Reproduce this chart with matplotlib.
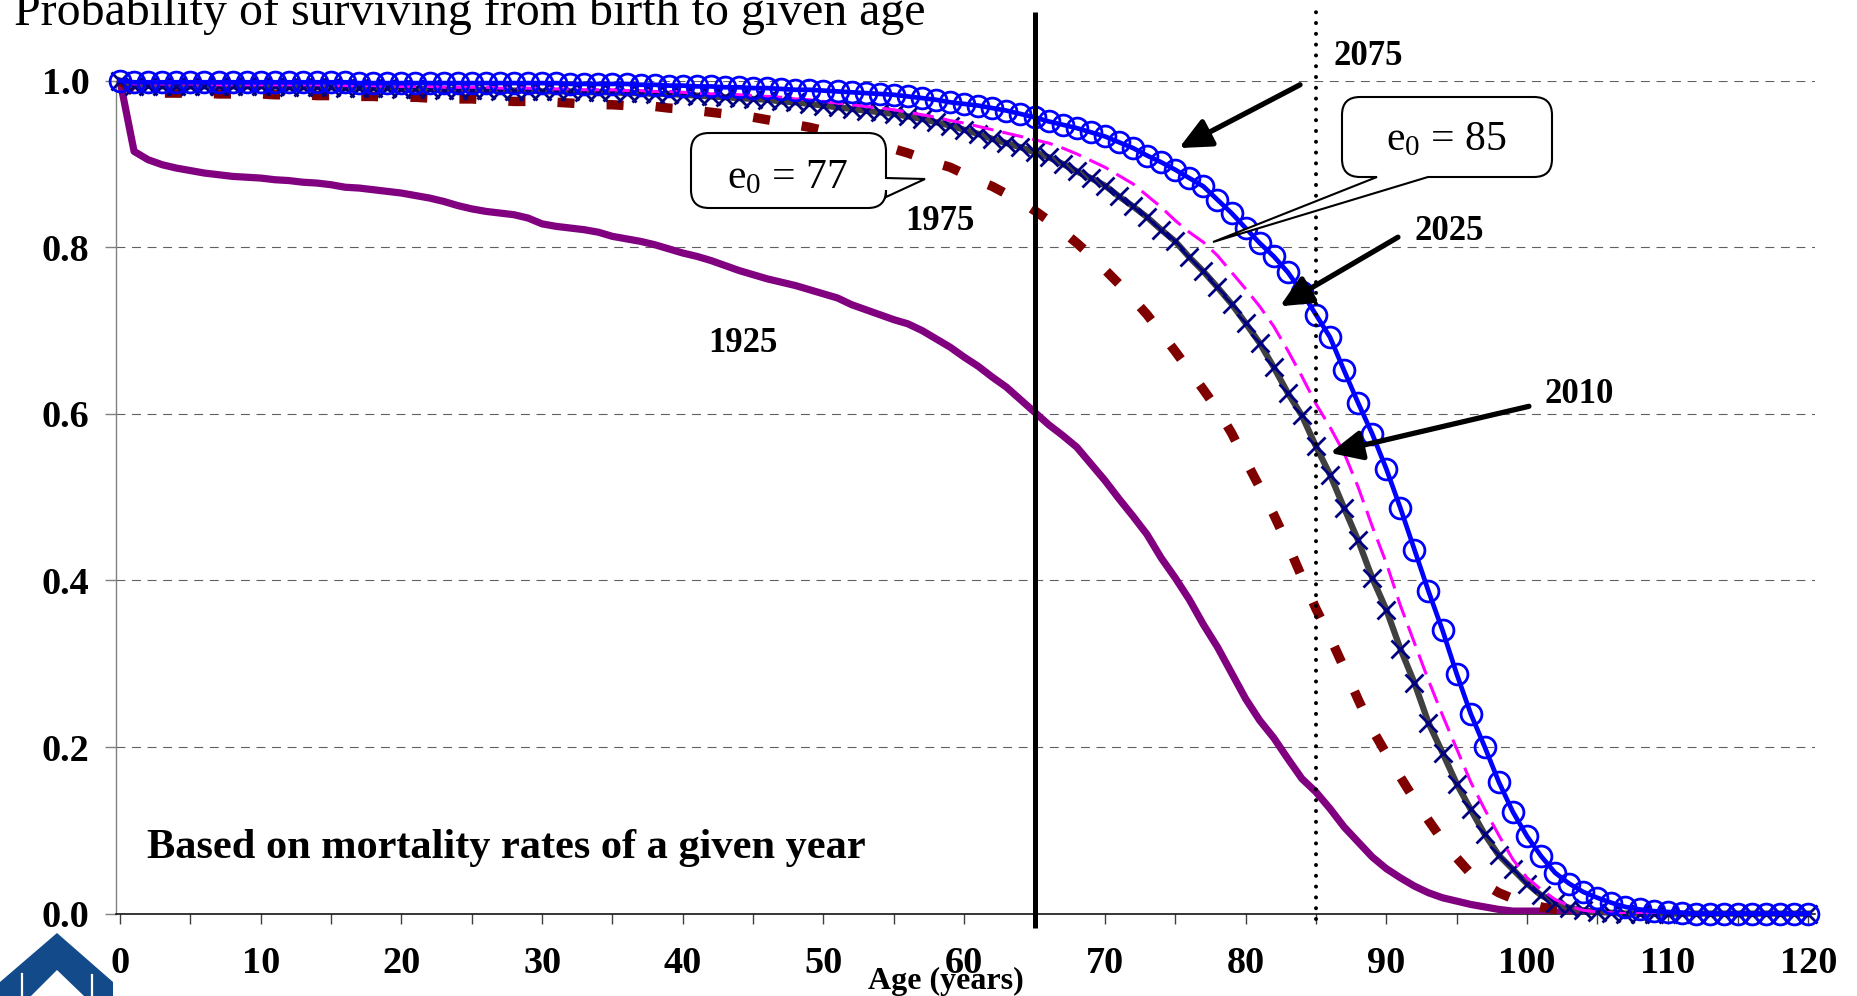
import matplotlib
matplotlib.use('Agg')
import matplotlib.pyplot as plt
from matplotlib.path import Path
from matplotlib.patches import PathPatch, Polygon

plt.rcParams['font.family'] = ['Liberation Serif', 'DejaVu Serif']
plt.rcParams['mathtext.fontset'] = 'custom'
plt.rcParams['mathtext.rm'] = 'Liberation Serif'
plt.rcParams['mathtext.it'] = 'Liberation Serif:italic'
plt.rcParams['mathtext.bf'] = 'Liberation Serif:bold'

# ---------------- data ----------------
ages = list(range(0, 121))
ages_early = list(range(0, 106))

surv_1925 = [1.000, 0.915, 0.905, 0.899, 0.895, 0.892, 0.889, 0.887, 0.885, 0.884,
             0.883, 0.881, 0.880, 0.878, 0.877, 0.875, 0.872, 0.871, 0.869, 0.867,
             0.865, 0.862, 0.859, 0.855, 0.850, 0.846, 0.843, 0.841, 0.839, 0.835,
             0.828, 0.825, 0.823, 0.821, 0.818, 0.813, 0.810, 0.807, 0.803, 0.798,
             0.793, 0.789, 0.784, 0.778, 0.772, 0.767, 0.762, 0.758, 0.754, 0.749,
             0.744, 0.739, 0.731, 0.725, 0.719, 0.713, 0.708, 0.700, 0.690, 0.680,
             0.668, 0.657, 0.644, 0.632, 0.617, 0.602, 0.587, 0.574, 0.560, 0.540,
             0.520, 0.498, 0.477, 0.455, 0.427, 0.403, 0.377, 0.347, 0.320, 0.289,
             0.258, 0.232, 0.211, 0.186, 0.162, 0.146, 0.126, 0.104, 0.086, 0.068,
             0.054, 0.043, 0.033, 0.025, 0.019, 0.015, 0.011, 0.008, 0.005, 0.003,
             0.003, 0.003, 0.002, 0.001, 0.000, 0.000]

surv_1975 = [1.000, 0.986, 0.986, 0.985, 0.985, 0.985, 0.985, 0.984, 0.984, 0.984,
             0.984, 0.983, 0.983, 0.983, 0.982, 0.982, 0.982, 0.981, 0.981, 0.980,
             0.980, 0.980, 0.979, 0.979, 0.978, 0.978, 0.977, 0.976, 0.975, 0.975,
             0.974, 0.974, 0.973, 0.972, 0.971, 0.971, 0.970, 0.969, 0.969, 0.967,
             0.966, 0.964, 0.962, 0.960, 0.958, 0.956, 0.953, 0.950, 0.947, 0.944,
             0.940, 0.936, 0.932, 0.927, 0.922, 0.918, 0.913, 0.907, 0.901, 0.896,
             0.888, 0.880, 0.873, 0.864, 0.855, 0.844, 0.832, 0.819, 0.805, 0.790,
             0.773, 0.756, 0.738, 0.719, 0.697, 0.675, 0.652, 0.629, 0.605, 0.577,
             0.544, 0.512, 0.479, 0.443, 0.404, 0.366, 0.332, 0.295, 0.257, 0.221,
             0.192, 0.164, 0.137, 0.112, 0.088, 0.067, 0.048, 0.035, 0.025, 0.018,
             0.012, 0.008, 0.005, 0.003, 0.001, 0.000]

surv_2010 = [1.000, 0.994, 0.994, 0.993, 0.993, 0.993, 0.993, 0.993, 0.993, 0.993,
             0.993, 0.993, 0.992, 0.992, 0.992, 0.992, 0.991, 0.991, 0.991, 0.991,
             0.990, 0.990, 0.990, 0.989, 0.989, 0.989, 0.989, 0.988, 0.988, 0.988,
             0.987, 0.987, 0.987, 0.986, 0.986, 0.986, 0.985, 0.985, 0.984, 0.984,
             0.983, 0.982, 0.981, 0.980, 0.979, 0.978, 0.977, 0.975, 0.974, 0.972,
             0.970, 0.968, 0.966, 0.964, 0.962, 0.960, 0.957, 0.954, 0.950, 0.946,
             0.941, 0.936, 0.930, 0.925, 0.920, 0.914, 0.908, 0.900, 0.891, 0.883,
             0.874, 0.861, 0.849, 0.836, 0.821, 0.807, 0.788, 0.771, 0.752, 0.732,
             0.709, 0.685, 0.656, 0.625, 0.598, 0.561, 0.527, 0.487, 0.448, 0.403,
             0.365, 0.318, 0.277, 0.229, 0.193, 0.156, 0.125, 0.095, 0.070, 0.053,
             0.036, 0.022, 0.013, 0.007, 0.004, 0.002, 0.001, 0.000, 0.000, 0.000,
             0.000, 0.000, 0.000, 0.000, 0.000, 0.000, 0.000, 0.000, 0.000, 0.000,
             0.000]

surv_2025 = [1.000, 0.996, 0.996, 0.996, 0.996, 0.996, 0.996, 0.995, 0.995, 0.995,
             0.995, 0.995, 0.995, 0.995, 0.995, 0.994, 0.994, 0.994, 0.994, 0.993,
             0.993, 0.993, 0.993, 0.992, 0.992, 0.992, 0.992, 0.991, 0.991, 0.991,
             0.990, 0.990, 0.990, 0.989, 0.989, 0.989, 0.988, 0.988, 0.987, 0.987,
             0.986, 0.985, 0.984, 0.984, 0.983, 0.982, 0.981, 0.980, 0.978, 0.977,
             0.975, 0.973, 0.971, 0.969, 0.967, 0.965, 0.962, 0.959, 0.956, 0.952,
             0.949, 0.945, 0.941, 0.937, 0.933, 0.929, 0.925, 0.919, 0.912, 0.904,
             0.896, 0.886, 0.876, 0.862, 0.848, 0.832, 0.818, 0.806, 0.790, 0.770,
             0.750, 0.729, 0.705, 0.676, 0.645, 0.612, 0.584, 0.553, 0.512, 0.465,
             0.421, 0.370, 0.325, 0.280, 0.238, 0.198, 0.158, 0.125, 0.094, 0.065,
             0.043, 0.029, 0.017, 0.009, 0.004, 0.002, 0.001, 0.000, 0.000, 0.000,
             0.000, 0.000, 0.000, 0.000, 0.000, 0.000, 0.000, 0.000, 0.000, 0.000,
             0.000]

surv_2075 = [1.000, 0.998, 0.998, 0.998, 0.998, 0.998, 0.998, 0.998, 0.998, 0.998,
             0.998, 0.998, 0.998, 0.998, 0.998, 0.998, 0.998, 0.997, 0.997, 0.997,
             0.997, 0.997, 0.997, 0.997, 0.997, 0.997, 0.997, 0.997, 0.997, 0.997,
             0.997, 0.997, 0.996, 0.996, 0.996, 0.996, 0.996, 0.995, 0.995, 0.994,
             0.994, 0.993, 0.993, 0.992, 0.992, 0.991, 0.991, 0.990, 0.989, 0.989,
             0.988, 0.987, 0.986, 0.985, 0.984, 0.983, 0.981, 0.979, 0.977, 0.974,
             0.972, 0.970, 0.967, 0.964, 0.960, 0.956, 0.951, 0.947, 0.943, 0.938,
             0.933, 0.926, 0.919, 0.910, 0.902, 0.893, 0.883, 0.873, 0.857, 0.841,
             0.823, 0.805, 0.789, 0.770, 0.746, 0.719, 0.692, 0.652, 0.613, 0.576,
             0.534, 0.487, 0.437, 0.387, 0.340, 0.288, 0.240, 0.200, 0.158, 0.122,
             0.093, 0.069, 0.049, 0.036, 0.026, 0.019, 0.013, 0.008, 0.005, 0.003,
             0.002, 0.001, 0.000, 0.000, 0.000, 0.000, 0.000, 0.000, 0.000, 0.000,
             0.000]

x_major_ticks = [0, 10, 20, 30, 40, 50, 60, 70, 80, 90, 100, 110, 120]
x_minor_ticks = [5, 15, 25, 35, 45, 55, 65, 75, 85, 95, 105, 115]
y_ticks = [0.0, 0.2, 0.4, 0.6, 0.8, 1.0]
y_tick_labels = ['0.0', '0.2', '0.4', '0.6', '0.8', '1.0']

title_text = 'Probability of surviving from birth to given age'
xlabel_text = 'Age (years)'
note_text = 'Based on mortality rates of a given year'
retirement_age = 65
reference_age = 85

# ---------------- figure ----------------
W, H = 1858, 996
fig = plt.figure(figsize=(W / 100, H / 100), dpi=100)
fig.patch.set_facecolor('white')

ax = fig.add_axes([115.8 / W, (H - 913.6) / H, 1699.6 / W, 833.0 / H])
ax.set_xlim(-0.3, 120.5)
ax.set_ylim(0, 1.0)
ax.set_facecolor('none')

for s in ['top', 'right']:
    ax.spines[s].set_visible(False)
ax.spines['left'].set_color('#808080')
ax.spines['left'].set_linewidth(1.0)
ax.spines['bottom'].set_color('black')
ax.spines['bottom'].set_linewidth(1.1)

ax.set_xticks(x_major_ticks)
ax.set_xticks(x_minor_ticks, minor=True)
ax.set_xticklabels([str(v) for v in x_major_ticks])
ax.set_yticks(y_ticks)
ax.set_yticklabels(y_tick_labels)
ax.tick_params(axis='x', which='both', direction='out', length=7, width=1.0,
               color='#404040', pad=16, labelsize=27.5)
ax.tick_params(axis='y', which='major', direction='out', length=8, width=1.0,
               color='#808080', pad=11, labelsize=27.5)
for lbl in ax.get_xticklabels() + ax.get_yticklabels():
    lbl.set_fontweight('bold')

ax.set_axisbelow(True)
ax.yaxis.grid(True, linestyle=(0, (8, 6)), color='#606060', linewidth=0.8)

# curves
ax.plot(ages_early, surv_1925, color='#800080', lw=5.2, zorder=3,
        solid_joinstyle='round')
ax.plot(ages_early, surv_1975, color='#800000', lw=6.8, zorder=3,
        linestyle=(0, (1.8, 3.4)), dash_capstyle='butt')
ax.plot(ages, surv_2010, color='#404040', lw=4.5, zorder=4, clip_on=False)
ax.plot(ages, surv_2010, ls='none', marker='x', ms=13.5, mew=2.0,
        mec='#000080', zorder=5, clip_on=False)
ax.plot(ages, surv_2025, color='#FF00FF', lw=2.2, zorder=6,
        linestyle=(0, (7, 3)))
ax.plot(ages, surv_2075, color='#0000FF', lw=3.4, marker='o', ms=15,
        mfc='none', mec='#0000FF', mew=2.0, zorder=7, clip_on=False)

# reference verticals
ax.plot([retirement_age, retirement_age], [-0.017, 1.082], color='black', lw=3.6,
        clip_on=False, zorder=8, solid_capstyle='butt')
ax.plot([reference_age, reference_age], [-0.006, 1.085], color='black', lw=2.9,
        linestyle=(0, (0.01, 2.67)), dash_capstyle='round', clip_on=False, zorder=8)

# arrows
arrow_kw = dict(arrowstyle='-|>,head_length=0.6,head_width=0.28', mutation_scale=32,
                lw=3.8, color='black', shrinkA=0, shrinkB=0)
ax.annotate('', xy=(75.27, 0.919), xytext=(83.87, 0.995), arrowprops=arrow_kw,
            annotation_clip=False, zorder=9)
ax.annotate('', xy=(82.44, 0.729), xytext=(90.83, 0.812), arrowprops=arrow_kw,
            annotation_clip=False, zorder=9)
ax.annotate('', xy=(86.0, 0.553), xytext=(100.14, 0.609), arrowprops=arrow_kw,
            annotation_clip=False, zorder=9)

lab_kw = dict(fontsize=25, fontweight='bold', ha='center', va='baseline',
              clip_on=False, zorder=9)
ax.text(88.7, 1.0187, '2075', **lab_kw)
ax.text(94.45, 0.8087, '2025', **lab_kw)
ax.text(103.7, 0.6130, '2010', **lab_kw)
ax.text(58.28, 0.8207, '1975', **lab_kw)
ax.text(44.28, 0.6742, '1925', **lab_kw)

ax.text(1.92, 0.0667, note_text, fontsize=30.5, fontweight='bold', ha='left',
        va='baseline', zorder=9)

# ---------------- overlay in pixel coords ----------------
ov = fig.add_axes([0, 0, 1, 1])
ov.set_xlim(0, W)
ov.set_ylim(H, 0)
ov.axis('off')
ov.set_zorder(10)

ov.text(14, 25, title_text, fontsize=34.5, ha='left', va='baseline')
ov.text(946, 989, xlabel_text, fontsize=23, fontweight='bold', ha='center',
        va='baseline')


def rounded_callout(x0, y0, x1, y1, r, tail_side, tail):
    M, L, Q, C = Path.MOVETO, Path.LINETO, Path.CURVE3, Path.CLOSEPOLY
    v, c = [(x0 + r, y0)], [M]
    v += [(x1 - r, y0), (x1, y0), (x1, y0 + r)]; c += [L, Q, Q]
    if tail_side == 'right':
        v += [(x1, tail[0]), tail[1], (x1, tail[2])]; c += [L, L, L]
    v += [(x1, y1 - r), (x1, y1), (x1 - r, y1)]; c += [L, Q, Q]
    if tail_side == 'bottom':
        v += [(tail[0], y1), tail[1], (tail[2], y1)]; c += [L, L, L]
    v += [(x0 + r, y1), (x0, y1), (x0, y1 - r)]; c += [L, Q, Q]
    v += [(x0, y0 + r), (x0, y0), (x0 + r, y0), (x0 + r, y0)]; c += [L, Q, Q, C]
    return PathPatch(Path(v, c), facecolor='white', edgecolor='black', lw=1.5)


ov.add_patch(rounded_callout(691, 133, 886, 208, 18, 'right', (178, (925, 179), 197)))
ov.add_patch(rounded_callout(1342, 97, 1552, 177, 18, 'bottom', (1428, (1213, 242), 1377)))
ov.text(788, 188, r'$\mathrm{e}_0$ = 77', fontsize=30, ha='center', va='baseline')
ov.text(1446, 150, r'$\mathrm{e}_0$ = 85', fontsize=30, ha='center', va='baseline')

# logo (bottom-left)
ov.add_patch(Polygon([(0, 996), (0, 982), (57, 933), (113, 982), (113, 996)],
                     closed=True, facecolor='#134a8a', edgecolor='none'))
ov.add_patch(Polygon([(31, 996), (57, 970), (84, 996)], closed=True,
                     facecolor='white', edgecolor='none'))
ov.plot([22, 22], [974, 996], color='white', lw=1.6)
ov.plot([92, 92], [975, 996], color='white', lw=1.6)

fig.savefig('out.png', dpi=100)
